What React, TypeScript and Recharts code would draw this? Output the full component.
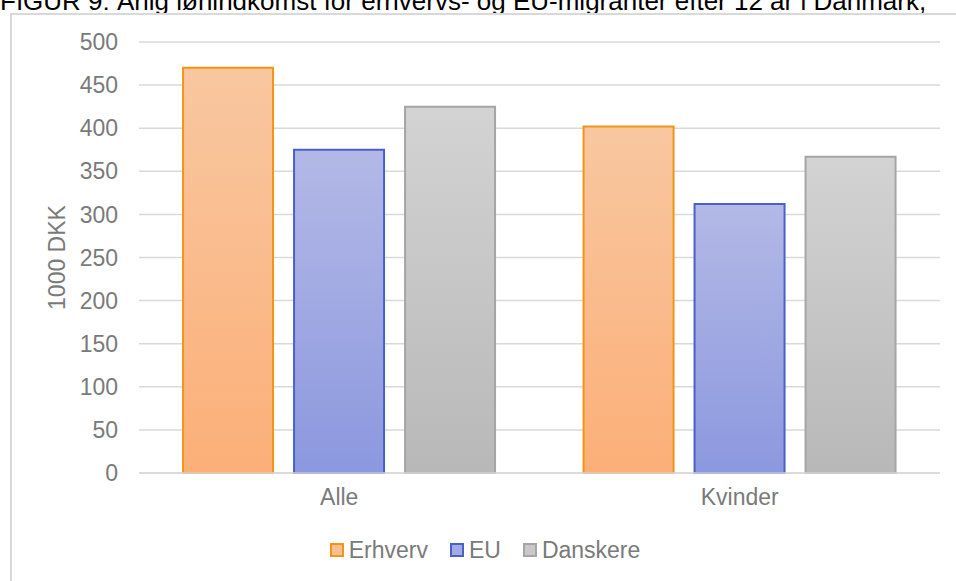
import { Bar, BarChart, CartesianGrid, Legend, XAxis, YAxis } from "recharts";

const categories = ["Alle", "Kvinder"];
const erhverv = [470, 402];
const eu = [375, 312];
const danskere = [425, 367];
const yTicks = [0, 50, 100, 150, 200, 250, 300, 350, 400, 450, 500];

const rows = categories.map((name, i) => ({
  name,
  Erhverv: erhverv[i],
  EU: eu[i],
  Danskere: danskere[i],
}));

const FONT = "'Liberation Sans', Arial, sans-serif";
const TEXT = "#7a7a7a";

const legendItems = [
  { label: "Erhverv", fill: "#f9bf92", stroke: "#f29418" },
  { label: "EU", fill: "#a3abe4", stroke: "#4b5fcb" },
  { label: "Danskere", fill: "#c8c8c8", stroke: "#a5a5a5" },
];

function LegendBox() {
  return (
    <div style={{ display: "flex", justifyContent: "center", paddingLeft: 36, fontFamily: FONT, fontSize: 23, lineHeight: "26px", color: TEXT }}>
      {legendItems.map((it) => (
        <div key={it.label} style={{ display: "flex", alignItems: "center", marginRight: 22 }}>
          <span style={{ width: 10, height: 10, background: it.fill, border: `2px solid ${it.stroke}`, marginRight: 5 }} />
          <span>{it.label}</span>
        </div>
      ))}
    </div>
  );
}

export default function App() {
  return (
    <div style={{ position: "absolute", left: 0, top: 0, width: 956, height: 581, overflow: "hidden", background: "#fff" }}>
      <div style={{ position: "absolute", left: 0, top: -12, whiteSpace: "nowrap", fontFamily: FONT, fontSize: 26, lineHeight: "26px", color: "#000" }}>
        FIGUR 9: Årlig lønindkomst for erhvervs- og EU-migranter efter 12 år i Danmark,
      </div>
      <div style={{ position: "absolute", left: 10, top: 13, width: 980, height: 600, border: "2px solid #d9d9d9", boxSizing: "border-box" }} />
      <div style={{ position: "absolute", left: 0, top: 0 }}>
        <BarChart
          width={956}
          height={581}
          data={rows}
          margin={{ top: 42, right: 16, left: 0, bottom: 52 }}
          barCategoryGap="11%"
          barGap={21}
        >
          <defs>
            <linearGradient id="gOrange" x1="0" y1="0" x2="0" y2="1">
              <stop offset="0%" stopColor="#f8c7a0" />
              <stop offset="100%" stopColor="#fcaf78" />
            </linearGradient>
            <linearGradient id="gBlue" x1="0" y1="0" x2="0" y2="1">
              <stop offset="0%" stopColor="#b3b9e6" />
              <stop offset="100%" stopColor="#8c98df" />
            </linearGradient>
            <linearGradient id="gGrey" x1="0" y1="0" x2="0" y2="1">
              <stop offset="0%" stopColor="#d3d3d3" />
              <stop offset="100%" stopColor="#b8b8b8" />
            </linearGradient>
          </defs>
          <CartesianGrid vertical={false} stroke="#d9d9d9" strokeWidth={1.5} />
          <XAxis
            dataKey="name"
            height={30}
            tickLine={false}
            axisLine={{ stroke: "#d9d9d9", strokeWidth: 1.5 }}
            tickSize={0}
            tickMargin={16}
            tick={{ fontSize: 23, fill: TEXT, fontFamily: FONT }}
          />
          <YAxis
            width={139}
            domain={[0, 500]}
            ticks={yTicks}
            interval={0}
            tickLine={false}
            axisLine={false}
            tickSize={0}
            tickMargin={21}
            tick={{ fontSize: 23, fill: TEXT, fontFamily: FONT }}
            label={{
              content: (props: any) => {
                const vb = props.viewBox;
                const x = vb.x + 57;
                const y = vb.y + vb.height / 2;
                return (
                  <text x={x} y={y} transform={`rotate(-90 ${x} ${y})`} textAnchor="middle" dominantBaseline="central" fontSize={23} fill={TEXT} fontFamily={FONT}>
                    1000 DKK
                  </text>
                );
              },
            }}
          />
          <Legend verticalAlign="bottom" content={() => <LegendBox />} wrapperStyle={{ position: "absolute", top: 537, left: 0, width: 956 }} />
          <Bar dataKey="Erhverv" fill="url(#gOrange)" stroke="#f29418" strokeWidth={2} isAnimationActive={false} />
          <Bar dataKey="EU" fill="url(#gBlue)" stroke="#4b5fcb" strokeWidth={2} isAnimationActive={false} />
          <Bar dataKey="Danskere" fill="url(#gGrey)" stroke="#a5a5a5" strokeWidth={2} isAnimationActive={false} />
        </BarChart>
      </div>
    </div>
  );
}
